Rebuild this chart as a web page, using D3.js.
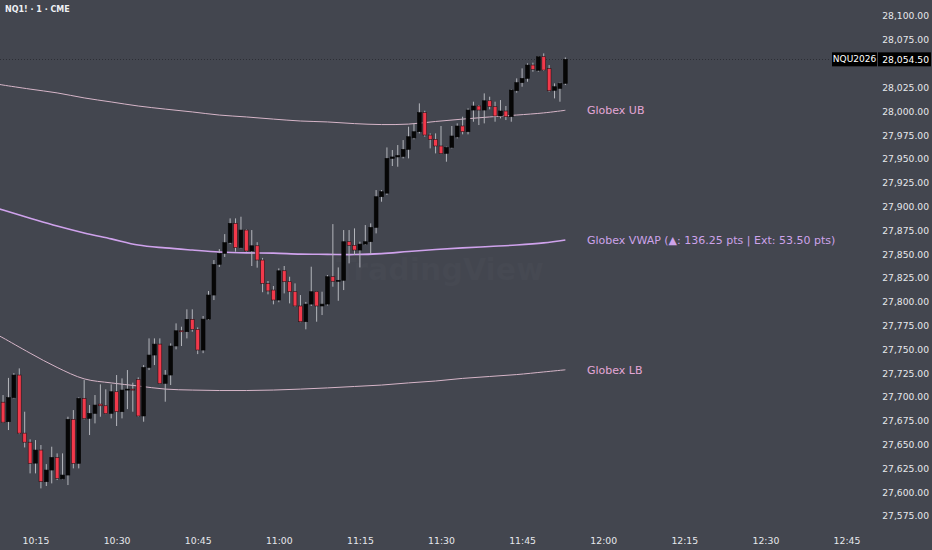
<!DOCTYPE html>
<html><head><meta charset="utf-8">
<script src="https://cdn.jsdelivr.net/npm/d3@7/dist/d3.min.js"></script>
<style>
html,body{margin:0;padding:0;background:#43464f;}
svg{display:block;}
</style></head>
<body><svg id="c" width="932" height="550"></svg>
<script>
// ---- data ----
const symbolTitle = "NQ1! · 1 · CME";
const contract = "NQU2026";
const startMinute = [10, 9]; // first bar 10:09, 1-minute bars
const open  = [27694.5,27674,27699.25,27723,27662,27652.5,27630.5,27644.25,27611,27623.25,27636.5,27614,27618,27676.5,27630.25,27698.5,27677.5,27682.75,27692.5,27690.75,27682.75,27705.5,27684.5,27707.25,27708.25,27718.5,27680,27731,27744,27755.5,27714.25,27723,27753.5,27769.5,27768.5,27781.5,27771,27749.25,27781.75,27807,27839.25,27850.75,27862,27882.25,27856.75,27875.25,27853.25,27858.75,27843.75,27819.25,27812.25,27801.75,27832.5,27821,27810.5,27795.5,27779,27797.5,27810.5,27795.5,27797.5,27826.25,27821.5,27822.5,27863,27859.25,27854.25,27860.5,27863,27878,27910.25,27914,27950.5,27952,27952.5,27960,27972,27978.5,27998.5,27975,27970.5,27963.5,27955.75,27962,27973,27984.5,27978.5,28001.25,28005.5,28001.25,28011,28004.75,27995,28000.25,27994.25,28021.5,28030,28034.5,28048.5,28043,28057.25,28045,28022,28024,28029.25];
const high  = [27702,27720,27725,27730,27684.5,27655.5,27654.75,27649.5,27629.5,27647.75,27640.75,27640.75,27679.25,27686.25,27699.5,27717.75,27691.5,27702,27713.25,27708,27713.25,27723,27719.5,27728.25,27715,27720.5,27733.5,27761.5,27761.5,27761.5,27728.25,27756.25,27777.25,27773.75,27792,27792,27773,27785,27811.25,27843.75,27855.25,27871,27887.5,27887.5,27889.25,27876,27875.25,27862.5,27846,27821.75,27816.5,27835,27837.5,27826.25,27819.25,27807,27799.75,27836.75,27811,27810.5,27828,27881.5,27836,27875.25,27875.25,27877,27863,27880.5,27882.25,27917.25,27917.25,27962,27959.25,27964.5,27969.75,27983.75,27987.25,28008.25,28000.5,27976.75,27976.75,27984.5,27962.75,27984.5,27987.25,27994.25,28003,28010,28006.5,28018.75,28015.25,28010,28011.75,28005.5,28023,28034.5,28045,28050.25,28051,28058,28060.75,28048.5,28029.25,28030,28056.5];
const low   = [27672.75,27665.25,27698.5,27661,27647,27619.75,27619.75,27604,27606.5,27609.25,27612.75,27613.5,27607.5,27625,27625,27676.5,27660,27672.25,27679.25,27682,27677.5,27669.5,27677.5,27687.25,27684.5,27679.25,27674,27728.25,27733.5,27713.5,27695,27712.5,27750,27753.5,27761.5,27768.5,27745,27746,27780.75,27801.75,27836.5,27847,27860.5,27852.5,27856,27852.5,27837.5,27835.75,27810,27807.75,27797.25,27799.5,27808.75,27798.25,27794.75,27778.5,27771,27795.5,27779,27786,27796,27815.75,27801,27812.25,27840.25,27849,27836,27859.5,27850,27871.75,27905,27912,27942.5,27941.75,27950.5,27950.5,27970.5,27976.75,27973.25,27961,27955.75,27955,27947,27961,27971.5,27975.75,27975.75,27989,27985.5,27987.25,28002,27989,27992.5,27990.75,27989,28019.5,28025.75,28031,28041.5,28041.5,28042.25,28020.5,28013.5,28010,28027.5];
const close = [27673.5,27699.25,27723,27662,27652.5,27630.25,27644.25,27611,27623.25,27636.5,27614.5,27618,27676.5,27630.25,27698.5,27677.5,27682.75,27691.5,27690.75,27682.75,27705.5,27684.5,27707.25,27708.25,27707.5,27680,27731,27744,27755.5,27714.25,27723,27753.5,27769.5,27768.5,27781.5,27771,27749.25,27781.75,27807,27839.25,27850.75,27862,27882.25,27856.75,27875.25,27853.25,27858.75,27843.75,27819.25,27811.25,27801.75,27832.5,27821,27810.5,27795.5,27779,27797.5,27810.5,27795.5,27797.5,27826.25,27821.5,27822.5,27863,27859.25,27854.25,27860.5,27863,27878,27910.25,27915.5,27950.5,27952,27953.5,27960,27973.25,27978.5,27998.5,27975,27970.5,27963.5,27955.75,27962,27974,27984.5,27978.5,28001.25,28005.5,28001.25,28011,28004.75,27995,28000.25,27994.25,28022.25,28030,28034.5,28048.5,28044,28057.25,28043.25,28021.5,28025.75,28029.25,28054.5];

// Globex VWAP and bands, read at these bar indices
const bandIdx = [-1,0,5,10,15,20,25,30,35,40,45,50,55,60,65,70,75,80,85,90,95,100,104];
const vwap = [27898,27896.25,27887.75,27879.5,27872.25,27866,27859.5,27856.5,27854.25,27852.25,27851.25,27851,27850,27849.75,27849.5,27850.5,27852.75,27854.75,27856.5,27858,27859.5,27861.75,27864.75];
const upperBand = [28028.5,28027.5,28023.25,28019.25,28014,28009.75,28005.5,28002.25,27999.25,27996,27994,27991.75,27989.75,27988.75,27987,27986,27986.5,27989.25,27991.75,27994,27996,27998.25,28001];
const lowerBand = [27765,27762,27746,27731,27719,27714.75,27711.5,27708.25,27707.25,27706.75,27706.75,27707.25,27708.25,27709.5,27711,27712.5,27714.75,27716.75,27719.5,27721.5,27723.5,27726.25,27728.5];
const bandLabels = ["Globex UB", "Globex VWAP (▲: 136.25 pts | Ext: 53.50 pts)", "Globex LB"];
const priceTicks = [27575,27600,27625,27650,27675,27700,27725,27750,27775,27800,27825,27850,27875,27900,27925,27950,27975,28000,28025,28075,28100];
const lastPrice = 28054.5;

// ---- scales ----
const W = 932, H = 550;
const plotRight = 830;
const T = (h, m) => new Date(2026, 6, 1, h, m);
const barTime = i => T(startMinute[0], startMinute[1] + i);
const x = d3.scaleTime().domain([T(10,15), T(12,45)]).range([35.5, 846.5]);
const y = d3.scaleLinear().domain([27575, 28100]).range([516, 16]);

const svg = d3.select("#c");
const font = "'DejaVu Sans', Verdana, sans-serif";

svg.append("rect").attr("width", W).attr("height", H).attr("fill", "#43464f");

// watermark (very faint)
svg.append("text").attr("x", 440).attr("y", 280).attr("text-anchor", "middle")
  .attr("font-family", font).attr("font-size", 30).attr("font-weight", "bold")
  .attr("fill", "#464952").text("TradingView");

// last price dotted line
svg.append("line").attr("x1", 0).attr("x2", plotRight)
  .attr("y1", Math.round(y(lastPrice)) + 0.5).attr("y2", Math.round(y(lastPrice)) + 0.5)
  .attr("stroke", "#2c2e35").attr("stroke-width", 1).attr("stroke-dasharray", "1,2");

// bands
function bandPath(vals) {
  return d3.line().x((d, k) => x(barTime(bandIdx[k]))).y(d => y(d)).curve(d3.curveCatmullRom.alpha(0.5))(vals);
}
const bandG = svg.append("g");
bandG.append("path").attr("d", bandPath(upperBand)).attr("fill", "none").attr("stroke", "#d6b5c8").attr("stroke-width", 1);
bandG.append("path").attr("d", bandPath(lowerBand)).attr("fill", "none").attr("stroke", "#d6b5c8").attr("stroke-width", 1);
bandG.append("path").attr("d", bandPath(vwap)).attr("fill", "none").attr("stroke", "#cfa2ec").attr("stroke-width", 1.6);

// candles
const bw = 3.8;
const cg = svg.append("g");
open.forEach((o, i) => {
  const c = close[i], hi = high[i], lo = low[i];
  const cx = x(barTime(i));
  const up = c >= o;
  cg.append("line").attr("x1", cx).attr("x2", cx).attr("y1", y(hi)).attr("y2", y(lo))
    .attr("stroke", "#b4b6bc").attr("stroke-width", 1);
  const top = y(Math.max(o, c)), bot = y(Math.min(o, c));
  cg.append("rect").attr("x", cx - bw / 2).attr("y", top).attr("width", bw)
    .attr("height", Math.max(1, bot - top))
    .attr("fill", up ? "#060606" : "#f2394b")
    .attr("stroke", up ? "#060606" : "#2a1216").attr("stroke-width", 0.6);
});

// band labels
const lastB = bandIdx.length - 1;
const labelColors = ["#e3a6d6", "#cda3ea", "#e3a6d6"];
[upperBand, vwap, lowerBand].forEach((arr, k) => {
  svg.append("text").attr("x", 587).attr("y", y(arr[lastB])).attr("dy", "0.35em")
    .attr("font-family", font).attr("font-size", 11).attr("fill", labelColors[k])
    .text(bandLabels[k]);
});

// right price axis
const yAxis = svg.append("g").attr("transform", `translate(929,0)`)
  .call(d3.axisLeft(y).tickValues(priceTicks).tickFormat(d3.format(",.2f")).tickSize(0).tickPadding(0));
yAxis.select(".domain").remove();
yAxis.selectAll("text").attr("font-family", font).attr("font-size", 9.2).attr("fill", "#e6e8ec");

// last price boxes
const ly = y(lastPrice);
svg.append("rect").attr("x", 832).attr("y", ly - 7).attr("width", 45).attr("height", 14).attr("fill", "#000");
svg.append("rect").attr("x", 878).attr("y", ly - 7).attr("width", 53).attr("height", 14).attr("fill", "#000");
svg.append("text").attr("x", 854.5).attr("y", ly).attr("dy", "0.35em").attr("text-anchor", "middle")
  .attr("font-family", font).attr("font-size", 9).attr("fill", "#fff").text(contract);
svg.append("text").attr("x", 929).attr("y", ly).attr("dy", "0.35em").attr("text-anchor", "end")
  .attr("font-family", font).attr("font-size", 9.2).attr("fill", "#fff").text(d3.format(",.2f")(lastPrice));

// time axis
const xAxis = svg.append("g").attr("transform", `translate(0,537)`)
  .call(d3.axisBottom(x).ticks(d3.timeMinute.every(15)).tickFormat(d3.timeFormat("%H:%M")).tickSize(0).tickPadding(0));
xAxis.select(".domain").remove();
xAxis.selectAll("text").attr("font-family", font).attr("font-size", 9.3).attr("fill", "#e6e8ec");

// title
svg.append("text").attr("x", 5).attr("y", 12).attr("font-family", font).attr("font-size", 8)
  .attr("font-weight", "bold").attr("fill", "#eef0f4").text(symbolTitle);
</script></body></html>
